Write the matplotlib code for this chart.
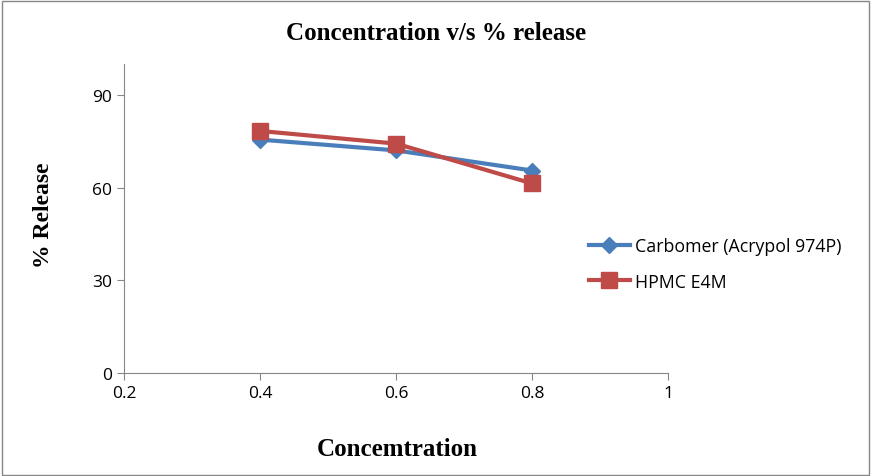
import matplotlib.pyplot as plt
from matplotlib.patches import Rectangle

concentration = [0.4, 0.6, 0.8]
carbomer = [75.5, 72.0, 65.5]
hpmc = [78.3, 74.2, 61.3]
series_names = ["Carbomer (Acrypol 974P)", "HPMC E4M"]

fig = plt.figure(figsize=(8.72, 4.77), dpi=100, facecolor="white")
ax = fig.add_axes([0.1422, 0.216, 0.624, 0.648])

ax.plot(concentration, carbomer, color="#4a7ebb", linewidth=3, marker="D",
        markersize=8, label=series_names[0])
ax.plot(concentration, hpmc, color="#be4b48", linewidth=3, marker="s",
        markersize=11, label=series_names[1])

ax.set_xlim(0.2, 1.0)
ax.set_ylim(0, 100)
ax.set_xticks([0.2, 0.4, 0.6, 0.8, 1.0])
ax.set_xticklabels(["0.2", "0.4", "0.6", "0.8", "1"])
ax.set_yticks([0, 30, 60, 90])

for side in ("top", "right"):
    ax.spines[side].set_visible(False)
for side in ("left", "bottom"):
    ax.spines[side].set_color("#868686")
ax.tick_params(colors="#868686", labelcolor="black", labelsize=12.5, length=5)
for lab in ax.get_xticklabels() + ax.get_yticklabels():
    lab.set_family("Open Sans")

fig.text(0.5, 0.93, "Concentration v/s % release", ha="center", va="center",
         fontsize=18, fontweight="bold", family="Liberation Serif")
fig.text(0.456, 0.057, "Concemtration", ha="center", va="center",
         fontsize=18, fontweight="bold", family="Liberation Serif")
fig.text(0.05, 0.549, "% Release", ha="center", va="center", rotation=90,
         fontsize=17, fontweight="bold", family="Liberation Serif")

leg = ax.legend(loc="center left", bbox_to_anchor=(0.657, 0.445),
                bbox_transform=fig.transFigure, frameon=False,
                prop={"family": "Open Sans", "size": 12.8},
                handlelength=2.3, labelspacing=1.0, handletextpad=0.3)

fig.patches.append(Rectangle((0.002, 0.003), 0.995, 0.993, transform=fig.transFigure,
                             fill=False, edgecolor="#868686", linewidth=1))

fig.savefig("out.png", dpi=100, facecolor="white")
